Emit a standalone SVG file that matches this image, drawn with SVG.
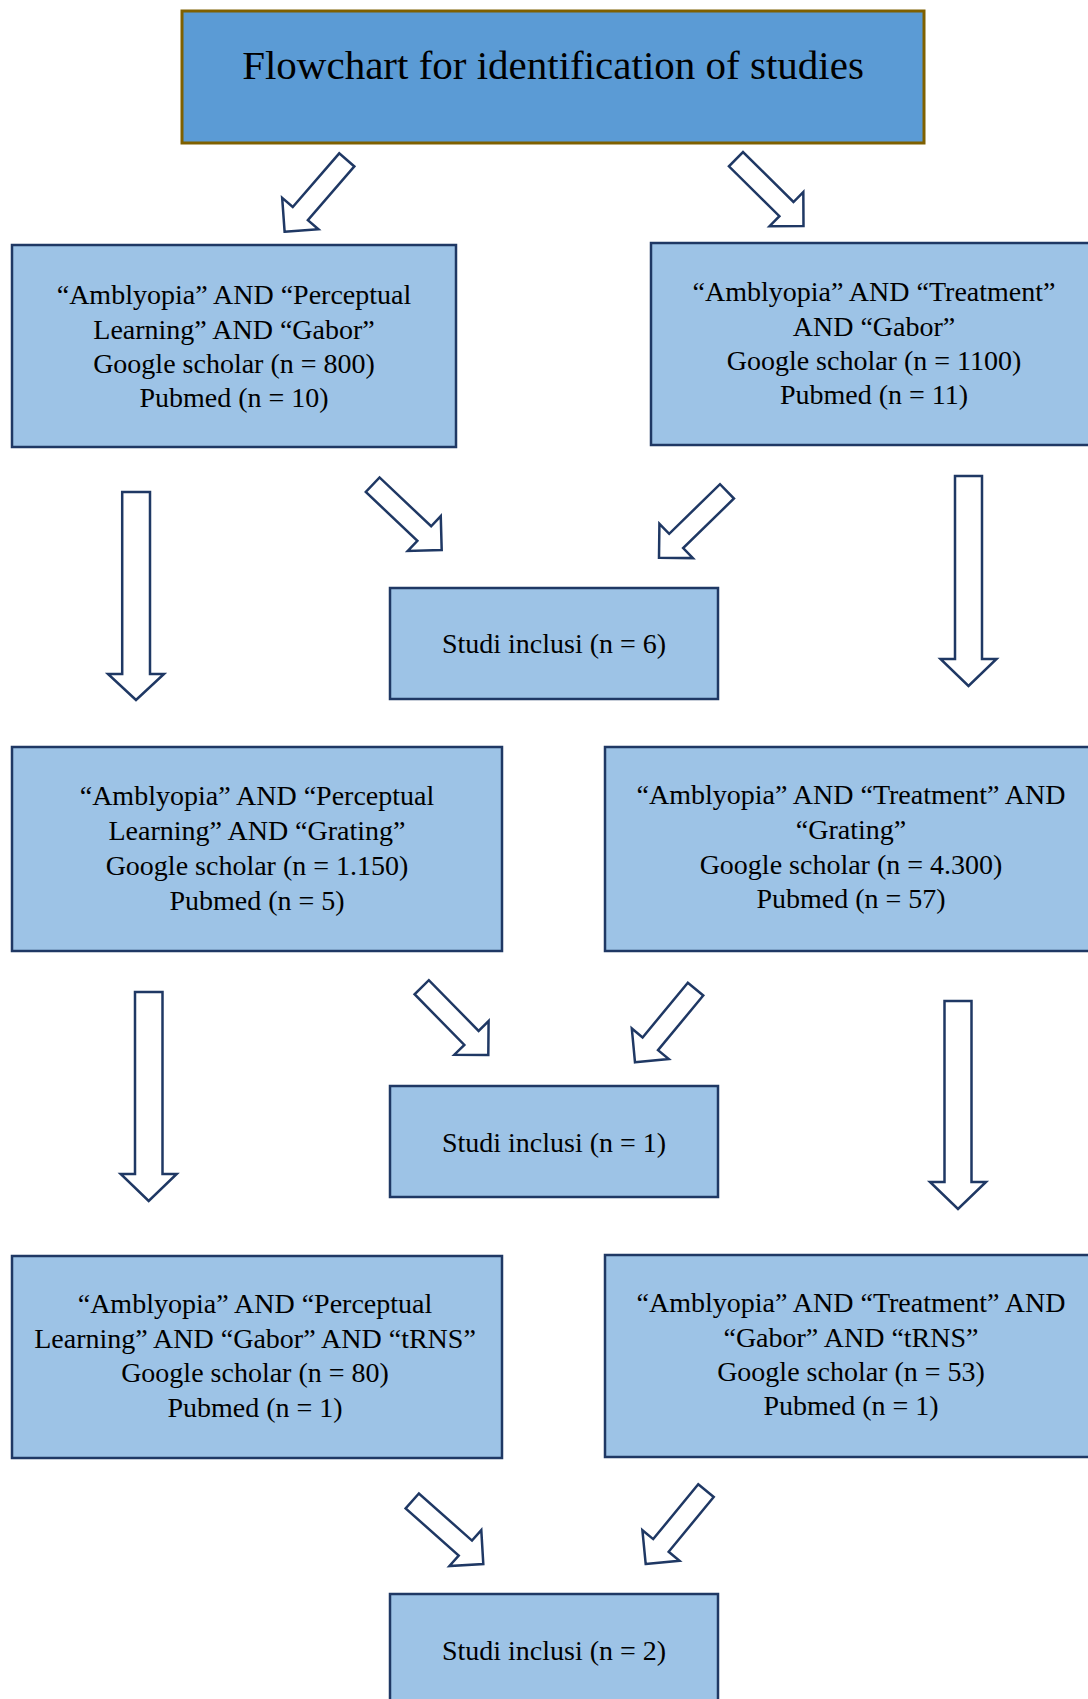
<svg xmlns="http://www.w3.org/2000/svg" width="1088" height="1699" viewBox="0 0 1088 1699">
<style>
.box{fill:#9DC3E6;stroke:#1F3864;stroke-width:2.5}
.title{fill:#5B9BD5;stroke:#7F6000;stroke-width:3}
.arr{fill:#FFFFFF;stroke:#1F3864;stroke-width:2.5;stroke-linejoin:miter}
text{font-family:"Liberation Serif","Times New Roman",serif;font-size:28px;fill:#000;text-anchor:middle}
.tt{font-size:41px}
</style>
<defs>
<path id="darr" d="M0,0 L-24,-24 L-24,-10 L-95,-10 L-95,10 L-24,10 L-24,24 Z"/>
</defs>
<rect width="1088" height="1699" fill="#FFFFFF"/>

<g id="title">
<rect class="title" x="182" y="11" width="742" height="132"/>
<text class="tt" x="553" y="79">Flowchart for identification of studies</text>
</g>

<g id="a1">
<rect class="box" x="12" y="245" width="444" height="202"/>
<text x="234" y="304">“Amblyopia” AND “Perceptual</text>
<text x="234" y="339">Learning” AND “Gabor”</text>
<text x="234" y="373">Google scholar (n = 800)</text>
<text x="234" y="407">Pubmed (n = 10)</text>
</g>

<g id="a2">
<rect class="box" x="651" y="243" width="446" height="202"/>
<text x="874" y="301">“Amblyopia” AND “Treatment”</text>
<text x="874" y="336">AND “Gabor”</text>
<text x="874" y="370">Google scholar (n = 1100)</text>
<text x="874" y="404">Pubmed (n = 11)</text>
</g>

<g id="s1">
<rect class="box" x="390" y="588" width="328" height="111"/>
<text x="554" y="653">Studi inclusi (n = 6)</text>
</g>

<g id="b1">
<rect class="box" x="12" y="747" width="490" height="204"/>
<text x="257" y="805">“Amblyopia” AND “Perceptual</text>
<text x="257" y="840">Learning” AND “Grating”</text>
<text x="257" y="875">Google scholar (n = 1.150)</text>
<text x="257" y="910">Pubmed (n = 5)</text>
</g>

<g id="b2">
<rect class="box" x="605" y="747" width="494" height="204"/>
<text x="851" y="804">“Amblyopia” AND “Treatment” AND</text>
<text x="851" y="839">“Grating”</text>
<text x="851" y="874">Google scholar (n = 4.300)</text>
<text x="851" y="908">Pubmed (n = 57)</text>
</g>

<g id="s2">
<rect class="box" x="390" y="1086" width="328" height="111"/>
<text x="554" y="1152">Studi inclusi (n = 1)</text>
</g>

<g id="c1">
<rect class="box" x="12" y="1256" width="490" height="202"/>
<text x="255" y="1313">“Amblyopia” AND “Perceptual</text>
<text x="255" y="1348">Learning” AND “Gabor” AND “tRNS”</text>
<text x="255" y="1382">Google scholar (n = 80)</text>
<text x="255" y="1417">Pubmed (n = 1)</text>
</g>

<g id="c2">
<rect class="box" x="605" y="1255" width="494" height="202"/>
<text x="851" y="1312">“Amblyopia” AND “Treatment” AND</text>
<text x="851" y="1347">“Gabor” AND “tRNS”</text>
<text x="851" y="1381">Google scholar (n = 53)</text>
<text x="851" y="1415">Pubmed (n = 1)</text>
</g>

<g id="s3">
<rect class="box" x="390" y="1594" width="328" height="120"/>
<text x="554" y="1660">Studi inclusi (n = 2)</text>
</g>

<g id="connectors">
<use href="#darr" class="arr" transform="translate(284.6,231.7) rotate(130.9)"/>
<use href="#darr" class="arr" transform="translate(803.5,226) rotate(44.7)"/>
<use href="#darr" class="arr" transform="translate(441.7,550) rotate(43.4)"/>
<use href="#darr" class="arr" transform="translate(659,557.7) rotate(135.7)"/>
<use href="#darr" class="arr" transform="translate(488.3,1055) rotate(45.5)"/>
<use href="#darr" class="arr" transform="translate(635,1062.3) rotate(129.6)"/>
<use href="#darr" class="arr" transform="translate(483.3,1564) rotate(41.6)"/>
<use href="#darr" class="arr" transform="translate(645.7,1564) rotate(129.4)"/>
<polygon class="arr" points="122.2,492 150,492 150,674 164,674 136,700 108,674 122.2,674"/>
<polygon class="arr" points="955,476 982,476 982,659 996.5,659 968.5,686 940.5,659 955,659"/>
<polygon class="arr" points="135,992 162.5,992 162.5,1174 176.7,1174 148.7,1201 120.7,1174 135,1174"/>
<polygon class="arr" points="944.5,1001 971.5,1001 971.5,1182 986,1182 958,1209 930,1182 944.5,1182"/>
</g>
</svg>
